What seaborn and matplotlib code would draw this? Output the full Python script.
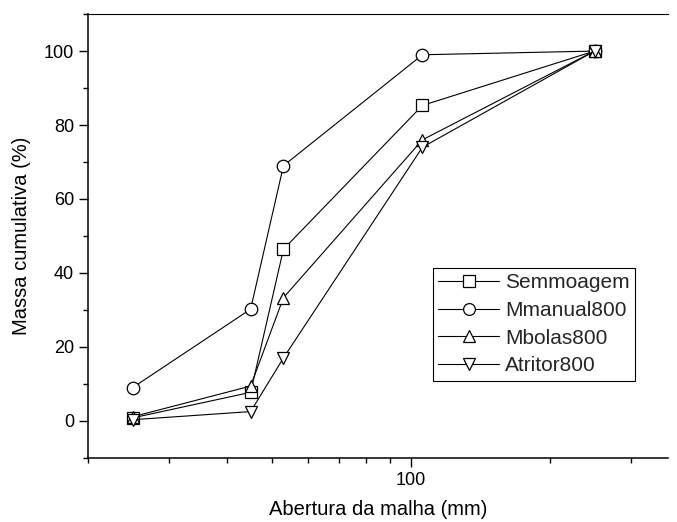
import matplotlib
matplotlib.use("Agg")
import matplotlib.pyplot as plt
import matplotlib.ticker as mticker
import seaborn as sns
import pandas as pd

# ---- data ----
abertura = [25, 45, 53, 106, 250]
semmoagem = [0.8, 7.7, 46.4, 85.3, 100]
mmanual800 = [9.0, 30.2, 69.0, 99.0, 100]
mbolas800 = [1.1, 9.4, 33.3, 76.0, 100]
atritor800 = [0.3, 2.5, 17.0, 74.0, 100]
series_names = ["Semmoagem", "Mmanual800", "Mbolas800", "Atritor800"]
series_markers = ["s", "o", "^", "v"]
x_major_ticks = [100]
x_tick_labels = ["100"]
x_minor_ticks = [20, 30, 40, 50, 60, 70, 80, 90, 200, 300]
y_major_ticks = [0, 20, 40, 60, 80, 100]

rows = []
for name, vals in zip(series_names, [semmoagem, mmanual800, mbolas800, atritor800]):
    for x, y in zip(abertura, vals):
        rows.append({"Abertura": x, "Massa": y, "Amostra": name})
df = pd.DataFrame(rows)

sns.set_theme(style="white")
plt.rcParams["font.family"] = ["Liberation Sans", "DejaVu Sans"]

fig = plt.figure(figsize=(6.77, 5.22), dpi=100)
ax = fig.add_axes([0.130, 0.123, 0.857, 0.850])

sns.lineplot(
    data=df, x="Abertura", y="Massa", hue="Amostra", style="Amostra",
    hue_order=series_names, style_order=series_names,
    palette=["black"] * 4, markers=dict(zip(series_names, series_markers)),
    dashes=False, linewidth=0.8, markersize=9, markerfacecolor="white",
    markeredgecolor="black", markeredgewidth=0.9, ax=ax, sort=False,
)

ax.set_xscale("log")
ax.set_xlim(20, 361)
ax.set_ylim(-10, 110)
ax.xaxis.set_major_locator(mticker.FixedLocator(x_major_ticks))
ax.xaxis.set_major_formatter(mticker.FixedFormatter(x_tick_labels))
ax.xaxis.set_minor_locator(mticker.FixedLocator(x_minor_ticks))
ax.xaxis.set_minor_formatter(mticker.NullFormatter())
ax.yaxis.set_major_locator(mticker.FixedLocator(y_major_ticks))
ax.yaxis.set_minor_locator(mticker.MultipleLocator(10))

ax.tick_params(axis="both", which="major", direction="out", length=6.5, width=1.0,
               color="black", labelsize=13, labelcolor="black", bottom=True, left=True)
ax.tick_params(axis="both", which="minor", direction="out", length=3.5, width=1.0,
               color="black", bottom=True, left=True)

for side in ["left", "bottom"]:
    ax.spines[side].set_color("black")
    ax.spines[side].set_linewidth(1.1)
ax.spines["top"].set_color("black")
ax.spines["top"].set_linewidth(0.8)
ax.spines["right"].set_visible(False)

ax.set_xlabel("Abertura da malha (mm)", fontsize=14.5, color="black", labelpad=8)
ax.set_ylabel("Massa cumulativa (%)", fontsize=14.5, color="black", labelpad=9)

leg = ax.legend(
    loc="upper left", bbox_to_anchor=(0.595, 0.428), fontsize=15, frameon=True,
    fancybox=False, edgecolor="black", framealpha=1, borderpad=0.25,
    labelspacing=0.42, handlelength=2.9, handletextpad=0.3, borderaxespad=0,
)
leg.get_frame().set_linewidth(0.8)
for h in leg.legend_handles:
    h.set_markersize(8.5)
    h.set_markerfacecolor("white")
    h.set_markeredgecolor("black")

fig.savefig("out.png", dpi=100)
